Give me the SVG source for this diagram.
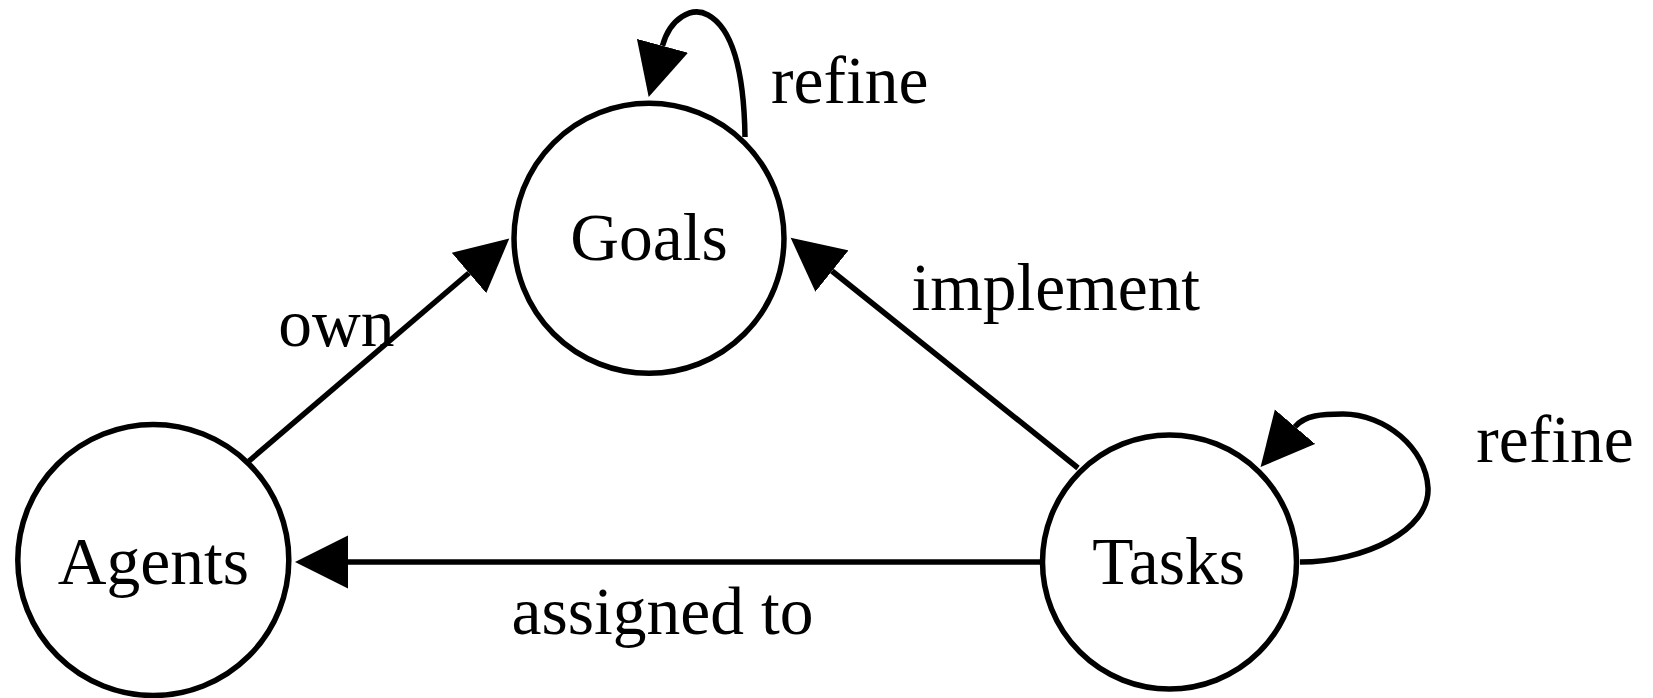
<svg xmlns="http://www.w3.org/2000/svg" width="1653" height="698" viewBox="0 0 1653 698">
<style>
.node{fill:#fff;stroke:#000;stroke-width:5.5}
.edge{fill:none;stroke:#000;stroke-width:5.5}
text{font-family:"Liberation Serif","Times New Roman",serif;font-size:67.5px;fill:#000;text-anchor:middle}
</style>
<defs>
<marker id="arr" markerUnits="userSpaceOnUse" viewBox="0 -27 54 54" refX="0" refY="0" markerWidth="54" markerHeight="54" orient="auto">
<path d="M0,-26.5 L53,0 L0,26.5 Z" fill="#000"/>
</marker>
</defs>
<rect width="1653" height="698" fill="#fff"/>
<g id="edges">
<path class="edge" d="M745,137 C744,70 732,28 708,15 C692,6 670,18 662.5,45.8" marker-end="url(#arr)"/>
<path class="edge" d="M249,461 L469,273" marker-end="url(#arr)"/>
<path class="edge" d="M1078,468 L832,271" marker-end="url(#arr)"/>
<path class="edge" d="M1040,562 L348,562" marker-end="url(#arr)"/>
<path class="edge" d="M1300,562 C1365,562 1430,530 1428,488 C1426,448 1385,414 1343,414 C1322,414 1305,415 1295,426.7" marker-end="url(#arr)"/>
<text x="849.7" y="103">refine</text>
<text x="336.3" y="346">own</text>
<text x="1055.8" y="310">implement</text>
<text x="662.5" y="634">assigned to</text>
<text x="1555" y="461.7">refine</text>
</g>
<g id="Goals">
<circle class="node" cx="649" cy="238.3" r="135"/>
<text x="649" y="260">Goals</text>
</g>
<g id="Agents">
<circle class="node" cx="153.3" cy="560" r="135.5"/>
<text x="153.3" y="584.3">Agents</text>
</g>
<g id="Tasks">
<circle class="node" cx="1169.5" cy="562" r="127"/>
<text x="1168.7" y="584.3">Tasks</text>
</g>
</svg>
